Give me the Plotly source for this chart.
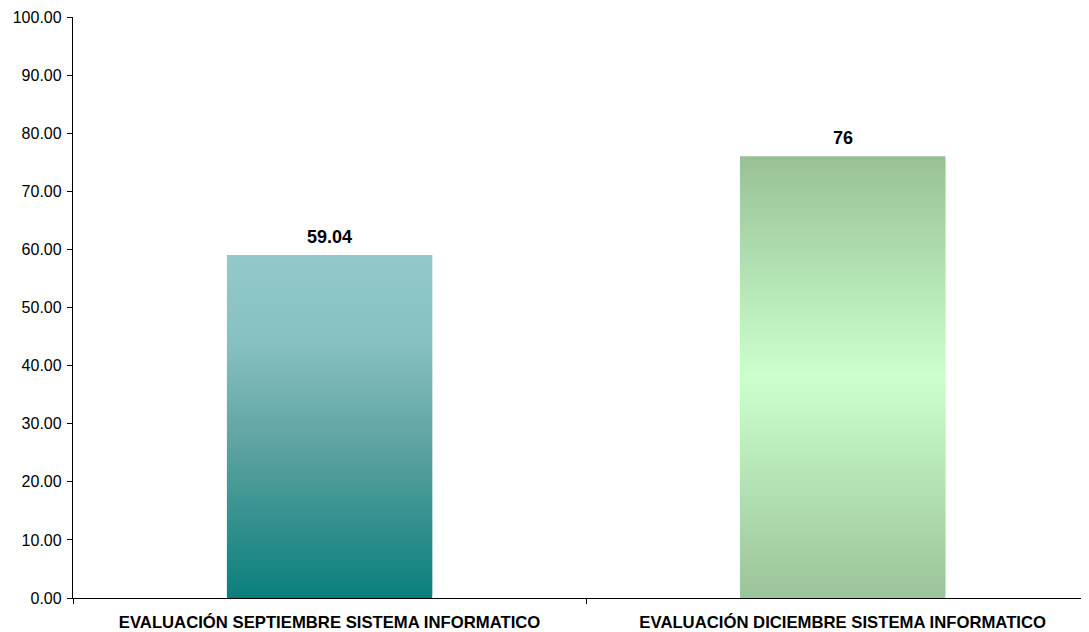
import plotly.graph_objects as go

categories = ["EVALUACIÓN SEPTIEMBRE SISTEMA INFORMATICO",
              "EVALUACIÓN DICIEMBRE SISTEMA INFORMATICO"]
values = [59.04, 76]
value_labels = ["59.04", "76"]
y_ticks = [0, 10, 20, 30, 40, 50, 60, 70, 80, 90, 100]

# gradient stops (fraction of bar height -> colour)
gradients = [
    [(0.0, (11, 127, 123)), (0.45, (94, 163, 162)), (0.75, (136, 193, 193)), (1.0, (146, 201, 201))],
    [(0.0, (155, 195, 153)), (0.5, (204, 255, 204)), (1.0, (152, 193, 150))],
]

def color_at(stops, f):
    for (f0, c0), (f1, c1) in zip(stops[:-1], stops[1:]):
        if f0 <= f <= f1:
            t = (f - f0) / (f1 - f0) if f1 > f0 else 0
            c = [round(a + (b - a) * t) for a, b in zip(c0, c1)]
            return "rgb(%d,%d,%d)" % tuple(c)
    return "rgb(%d,%d,%d)" % stops[-1][1]

N = 120
fig = go.Figure()
for cat, v, stops in zip(categories, values, gradients):
    step = v / N
    bases = [step * i for i in range(N)]
    heights = [step * min(2, N - i) for i in range(N)]
    colors = [color_at(stops, (i + 0.5) / N) for i in range(N)]
    fig.add_trace(go.Bar(
        x=[cat] * N, y=heights, base=bases, width=0.4,
        marker=dict(color=colors, line=dict(width=0)),
        hoverinfo="skip", showlegend=False,
    ))

for cat, v, lab in zip(categories, values, value_labels):
    fig.add_annotation(x=cat, y=v, text="<b>%s</b>" % lab, showarrow=False,
                       yanchor="bottom", yshift=6,
                       font=dict(size=18, color="black", family="Liberation Sans"))

fig.update_layout(
    width=1081, height=624,
    margin=dict(l=65, r=0, t=9, b=34),
    plot_bgcolor="white", paper_bgcolor="white",
    barmode="overlay",
    font=dict(family="Liberation Sans", color="black"),
    showlegend=False,
)
fig.update_xaxes(
    type="category", range=[-0.5, 1.48], automargin=False,
    tickvals=categories, ticktext=["<b>%s</b>" % c for c in categories],
    showline=True, linecolor="black", linewidth=1.3,
    ticks="outside", tickson="boundaries", ticklen=5, tickcolor="black",
    ticklabelstandoff=9,
    tickfont=dict(size=16.7, family="Liberation Sans"),
    showgrid=False, zeroline=False,
)
fig.update_yaxes(
    range=[0, 100], tickvals=y_ticks, tickformat=".2f", automargin=False,
    showline=True, linecolor="black", linewidth=1.3,
    ticks="outside", ticklen=5, tickcolor="black",
    ticklabelstandoff=2,
    tickfont=dict(size=16, family="Liberation Sans"),
    showgrid=False, zeroline=False,
)
fig.write_html("out.html")
